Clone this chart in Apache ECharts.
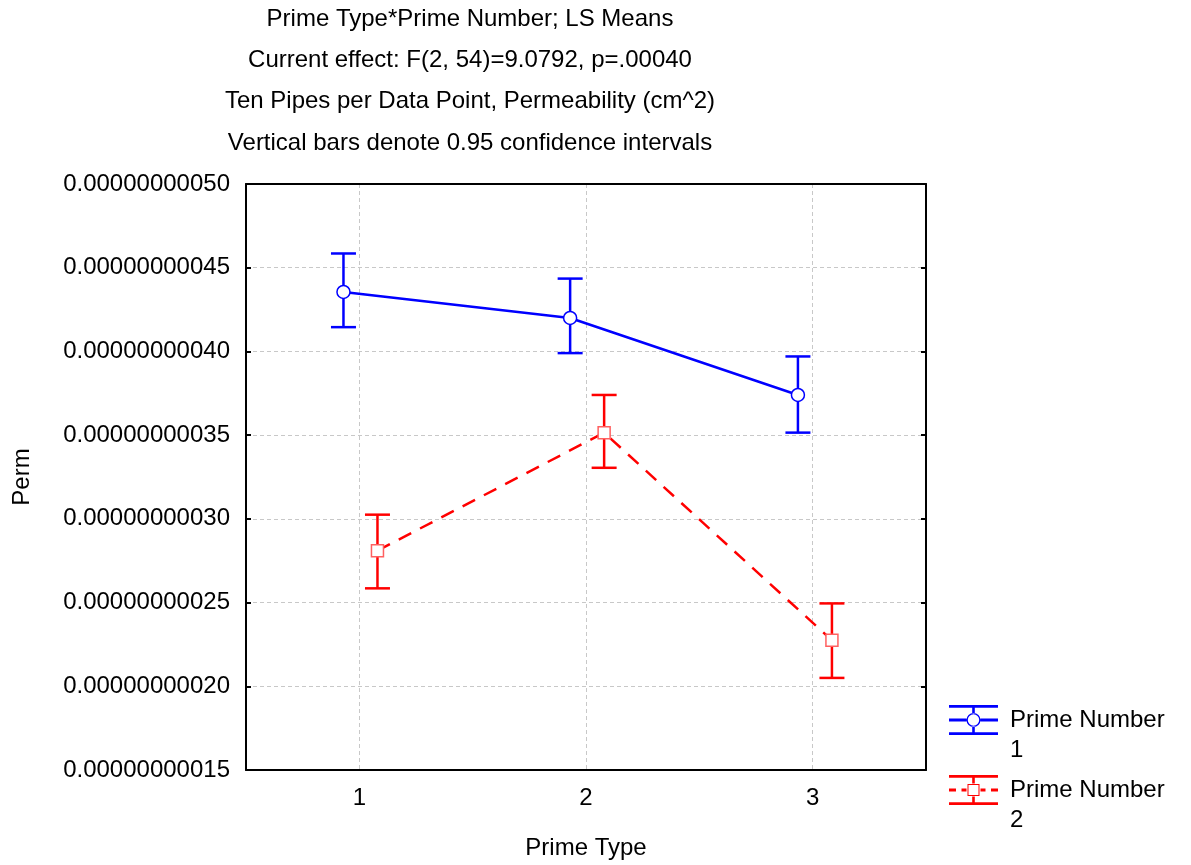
<!DOCTYPE html>
<html>
<head>
<meta charset="utf-8">
<script src="https://cdn.jsdelivr.net/npm/echarts@6/dist/echarts.min.js"></script>
<style>html,body{margin:0;padding:0;background:#fff}#c{width:1191px;height:865px}</style>
</head>
<body>
<div id="c"></div>
<script>
// ---- data ----
var titleLines = [
  'Prime Type*Prime Number; LS Means',
  'Current effect: F(2, 54)=9.0792, p=.00040',
  'Ten Pipes per Data Point, Permeability (cm^2)',
  'Vertical bars denote 0.95 confidence intervals'
];
var categories = ['1', '2', '3'];
var seriesNames = ['Prime Number\n1', 'Prime Number\n2'];
// x positions (category index + small dodge)
var xPos1 = [0.93, 1.93, 2.935];
var xPos2 = [1.08, 2.08, 3.085];
var mean1 = [4.355e-10, 4.20e-10, 3.74e-10];
var low1  = [4.145e-10, 3.99e-10, 3.515e-10];
var high1 = [4.585e-10, 4.435e-10, 3.97e-10];
var mean2 = [2.81e-10, 3.515e-10, 2.275e-10];
var low2  = [2.585e-10, 3.305e-10, 2.05e-10];
var high2 = [3.025e-10, 3.74e-10, 2.495e-10];
var yMin = 1.5e-10, yMax = 5.0e-10, yStep = 0.5e-10;

// ---- build ----
var BLUE = '#0000ff', RED = '#ff0000';
var FONT = 'Liberation Sans, Arial, sans-serif';
var FS = 24;

function pts(xs, ys) { return xs.map(function (x, i) { return [x, ys[i]]; }); }
function errData(xs, lo, hi) { return xs.map(function (x, i) { return [x, lo[i], hi[i]]; }); }

function errRender(color) {
  return function (params, api) {
    var x = api.value(0);
    var pLo = api.coord([x, api.value(1)]);
    var pHi = api.coord([x, api.value(2)]);
    var hw = 12.5;
    var st = { stroke: color, lineWidth: 2.5 };
    return {
      type: 'group',
      children: [
        { type: 'line', shape: { x1: pLo[0], y1: pLo[1], x2: pHi[0], y2: pHi[1] }, style: st },
        { type: 'line', shape: { x1: pLo[0] - hw, y1: pLo[1], x2: pLo[0] + hw, y2: pLo[1] }, style: st },
        { type: 'line', shape: { x1: pHi[0] - hw, y1: pHi[1], x2: pHi[0] + hw, y2: pHi[1] }, style: st }
      ]
    };
  };
}

// legend icons (49 x 30 drawing, padded to 56 wide so the text starts further right)
var iconBars = 'M0 0H49V2.8H0Z M0 27.2H49V30H0Z M23.2 2.8H25.8V8.5H23.2Z M23.2 21.5H25.8V27.2H23.2Z M56 15H56.01V15.01H56Z ';
var icon1 = 'path://' + iconBars +
  'M0 13.6H17.6V16.4H0Z M31.4 13.6H49V16.4H31.4Z ' +
  'M31.5 15A7 7 0 1 0 17.5 15A7 7 0 1 0 31.5 15Z M30.2 15A5.7 5.7 0 1 1 18.8 15A5.7 5.7 0 1 1 30.2 15Z';
var icon2 = 'path://' + iconBars +
  'M0 13.6H7V16.4H0Z M12.5 13.6H17.5V16.4H12.5Z M31.5 13.6H36.5V16.4H31.5Z M42 13.6H49V16.4H42Z ' +
  'M18.5 9H30.5V21H18.5Z M29.5 10H19.5V20H29.5Z';

var axisLabelFmt = function (v) { return v.toFixed(11); };

var option = {
  backgroundColor: '#fff',
  animation: false,
  title: titleLines.map(function (t, i) {
    return {
      text: t, left: 470, textAlign: 'center', top: 7 + i * 41.3, padding: 0,
      textStyle: { fontFamily: FONT, fontSize: FS, fontWeight: 'normal', color: '#000' }
    };
  }),
  legend: {
    orient: 'vertical', left: 949, top: 675, itemWidth: 56, itemHeight: 30, itemGap: -20,
    padding: 0,
    formatter: function (name) { return '\n' + name; },
    textStyle: { fontFamily: FONT, fontSize: FS, color: '#000', lineHeight: 30 },
    itemStyle: { borderWidth: 0 },
    data: [
      { name: seriesNames[0], icon: icon1, itemStyle: { color: BLUE, borderWidth: 0 } },
      { name: seriesNames[1], icon: icon2, itemStyle: { color: RED, borderWidth: 0 } }
    ]
  },
  grid: { left: 246, top: 184, right: 265, bottom: 95, containLabel: false },
  xAxis: [
    {
      type: 'category', data: categories, position: 'bottom', boundaryGap: true,
      name: 'Prime Type', nameLocation: 'middle', nameGap: 66,
      nameTextStyle: { fontFamily: FONT, fontSize: FS, color: '#000' },
      axisLine: { lineStyle: { color: '#000', width: 2 } },
      axisTick: { inside: true, alignWithLabel: true, length: 5, lineStyle: { color: '#000', width: 2 } },
      axisLabel: { fontFamily: FONT, fontSize: FS, color: '#000', margin: 16 },
      splitLine: { show: true, alignWithLabel: true, lineStyle: { color: '#c8c8c8', type: [4, 3], width: 1 } }
    },
    {
      type: 'category', data: categories, position: 'top', boundaryGap: true,
      axisLine: { lineStyle: { color: '#000', width: 2 } },
      axisTick: { inside: true, alignWithLabel: true, length: 5, lineStyle: { color: '#000', width: 2 } },
      axisLabel: { show: false }, splitLine: { show: false }
    },
    { type: 'value', min: 0.5, max: 3.5, show: false }
  ],
  yAxis: [
    {
      type: 'value', min: yMin, max: yMax, interval: yStep, position: 'left',
      name: 'Perm', nameLocation: 'middle', nameGap: 212, nameRotate: 90,
      nameTextStyle: { fontFamily: FONT, fontSize: FS, color: '#000' },
      axisLine: { show: true, lineStyle: { color: '#000', width: 2 } },
      axisTick: { show: true, inside: true, length: 5, lineStyle: { color: '#000', width: 2 } },
      axisLabel: { fontFamily: FONT, fontSize: FS, color: '#000', margin: 16, formatter: axisLabelFmt },
      splitLine: { show: true, lineStyle: { color: '#c8c8c8', type: [4, 3], width: 1 } }
    },
    {
      type: 'value', min: yMin, max: yMax, interval: yStep, position: 'right',
      axisLine: { show: true, lineStyle: { color: '#000', width: 2 } },
      axisTick: { show: true, inside: true, length: 5, lineStyle: { color: '#000', width: 2 } },
      axisLabel: { show: false }, splitLine: { show: false }
    }
  ],
  series: [
    {
      name: seriesNames[0], type: 'line', xAxisIndex: 2, yAxisIndex: 0, z: 5,
      data: pts(xPos1, mean1),
      symbol: 'circle', symbolSize: 13,
      itemStyle: { color: '#fff', borderColor: BLUE, borderWidth: 1.5 },
      lineStyle: { color: BLUE, width: 2.5 }
    },
    {
      name: seriesNames[0], type: 'custom', xAxisIndex: 2, yAxisIndex: 0, z: 3,
      data: errData(xPos1, low1, high1), renderItem: errRender(BLUE),
      itemStyle: { color: BLUE }
    },
    {
      name: seriesNames[1], type: 'line', xAxisIndex: 2, yAxisIndex: 0, z: 5,
      data: pts(xPos2, mean2),
      symbol: 'rect', symbolSize: 12,
      itemStyle: { color: '#fff', borderColor: '#ff6060', borderWidth: 1.5 },
      lineStyle: { color: RED, width: 2.5, type: [14, 10] }
    },
    {
      name: seriesNames[1], type: 'custom', xAxisIndex: 2, yAxisIndex: 0, z: 3,
      data: errData(xPos2, low2, high2), renderItem: errRender(RED),
      itemStyle: { color: RED }
    }
  ]
};
var chart = echarts.init(document.getElementById('c'), null, { renderer: 'canvas' });
chart.setOption(option);
</script>
</body>
</html>
